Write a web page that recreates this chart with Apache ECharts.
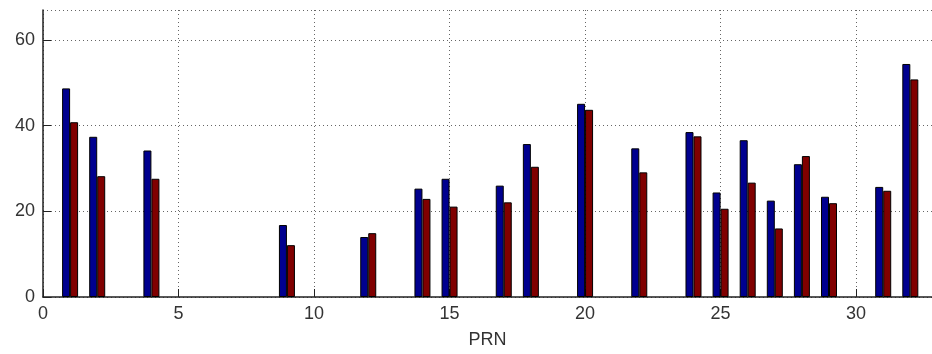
<!DOCTYPE html>
<html>
<head>
<meta charset="utf-8">
<script src="https://cdn.jsdelivr.net/npm/echarts@6/dist/echarts.min.js"></script>
<style>
  html, body { margin: 0; padding: 0; background: #fff; }
  #chart { width: 932px; height: 354px; }
</style>
</head>
<body>
<div id="chart"></div>
<script>
// Satellite PRN numbers and the two measured quantities per satellite
const prns = [1, 2, 4, 9, 12, 14, 15, 17, 18, 20, 22, 24, 25, 26, 27, 28, 29, 31, 32];
const seriesA = [48.7, 37.4, 34.2, 16.8, 14.0, 25.3, 27.6, 26.0, 35.7, 45.1, 34.7, 38.5, 24.4, 36.6, 22.5, 31.0, 23.4, 25.7, 54.4];
const seriesB = [40.8, 28.2, 27.6, 12.1, 14.9, 22.9, 21.1, 22.1, 30.4, 43.7, 29.1, 37.5, 20.6, 26.7, 16.0, 32.9, 21.9, 24.8, 50.8];
const xTicks = [0, 5, 10, 15, 20, 25, 30];
const yTicks = [0, 20, 40, 60];

const pairs = (vals) => prns.map((p, i) => [p, vals[i]]);

const gridDots = { show: true, lineStyle: { color: '#666', type: [1, 3], width: 1 } };
const labelFont = { color: '#333', fontSize: 18, fontFamily: 'Liberation Sans, Arial, sans-serif' };

const chart = echarts.init(document.getElementById('chart'), null, { renderer: 'canvas' });
chart.setOption({
  animation: false,
  backgroundColor: '#fff',
  grid: { left: 43, top: 10, bottom: 57, right: 0, containLabel: false },
  xAxis: {
    type: 'value',
    min: 0,
    max: 32.8,
    interval: 5,
    name: 'PRN',
    nameLocation: 'middle',
    nameGap: 34,
    nameTextStyle: labelFont,
    axisLine: { show: true, lineStyle: { color: '#222', width: 1.5 } },
    axisTick: { show: true, inside: true, length: 8, lineStyle: { color: '#222', width: 1 } },
    axisLabel: Object.assign({ margin: 8, showMaxLabel: false,
      formatter: (v) => (xTicks.indexOf(v) >= 0 ? String(v) : '') }, labelFont),
    splitLine: gridDots
  },
  yAxis: {
    type: 'value',
    min: 0,
    max: 67,
    interval: 20,
    axisLine: { show: true, lineStyle: { color: '#222', width: 1.5 } },
    axisTick: { show: true, inside: true, length: 8, lineStyle: { color: '#222', width: 1 } },
    axisLabel: Object.assign({ margin: 8, showMaxLabel: false,
      formatter: (v) => (yTicks.indexOf(v) >= 0 ? String(v) : '') }, labelFont),
    splitLine: gridDots
  },
  series: [
    {
      type: 'bar',
      data: pairs(seriesA),
      barWidth: 8,
      barGap: '0%',
      itemStyle: { color: '#00008f', borderColor: '#000', borderWidth: 1 }
    },
    {
      type: 'bar',
      data: pairs(seriesB),
      barWidth: 8,
      barGap: '0%',
      itemStyle: { color: '#800000', borderColor: '#000', borderWidth: 1 }
    }
  ]
});
</script>
</body>
</html>
